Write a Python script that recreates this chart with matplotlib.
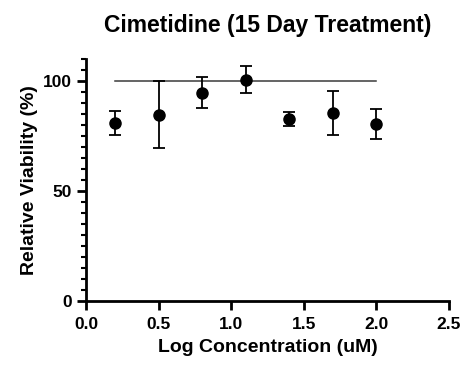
import numpy as np
import matplotlib.pyplot as plt
from matplotlib.ticker import MultipleLocator

plt.rcParams['font.family'] = ['Liberation Sans', 'DejaVu Sans']
plt.rcParams['font.weight'] = 'bold'

# data
log_conc = [0.2, 0.5, 0.8, 1.1, 1.4, 1.7, 2.0]
viability = [80.8, 84.6, 94.6, 100.6, 82.8, 85.4, 80.4]
sd = [5.5, 15.2, 7.0, 6.0, 3.2, 10.0, 7.0]
ref_x = [0.2, 2.0]
ref_y = [100, 100]

fig = plt.figure(figsize=(4.66, 3.68), dpi=100)
ax = fig.add_axes([0.1845, 0.182, 0.779, 0.658])

ax.plot(ref_x, ref_y, color='#3a3a3a', lw=1.1, zorder=1)
ax.errorbar(log_conc, viability, yerr=sd, fmt='o', color='black', ms=8,
            elinewidth=1.3, capsize=4, capthick=1.3, zorder=3)

ax.set_xlim(0, 2.5)
ax.set_ylim(0, 110)
ax.xaxis.set_major_locator(MultipleLocator(0.5))
ax.yaxis.set_major_locator(MultipleLocator(50))
ax.yaxis.set_minor_locator(MultipleLocator(5))
ax.xaxis.set_major_formatter(plt.FormatStrFormatter('%.1f'))

for s in ['top', 'right']:
    ax.spines[s].set_visible(False)
for s in ['left', 'bottom']:
    ax.spines[s].set_linewidth(2)
ax.tick_params(which='major', width=2, length=6.5, labelsize=12.5)
ax.tick_params(axis='x', which='major', pad=5)
ax.tick_params(axis='y', which='major', pad=3.5)
ax.tick_params(which='minor', width=1.5, length=3.3)
for lab in ax.get_xticklabels() + ax.get_yticklabels():
    lab.set_fontweight('bold')

ax.set_xlabel('Log Concentration (uM)', fontsize=14, fontweight='bold', labelpad=5)
ax.set_ylabel('Relative Viability (%)', fontsize=14, fontweight='bold', labelpad=4)
ax.set_title('Cimetidine (15 Day Treatment)', fontsize=16.5, fontweight='bold', pad=19)

fig.savefig('out.png', dpi=100)
